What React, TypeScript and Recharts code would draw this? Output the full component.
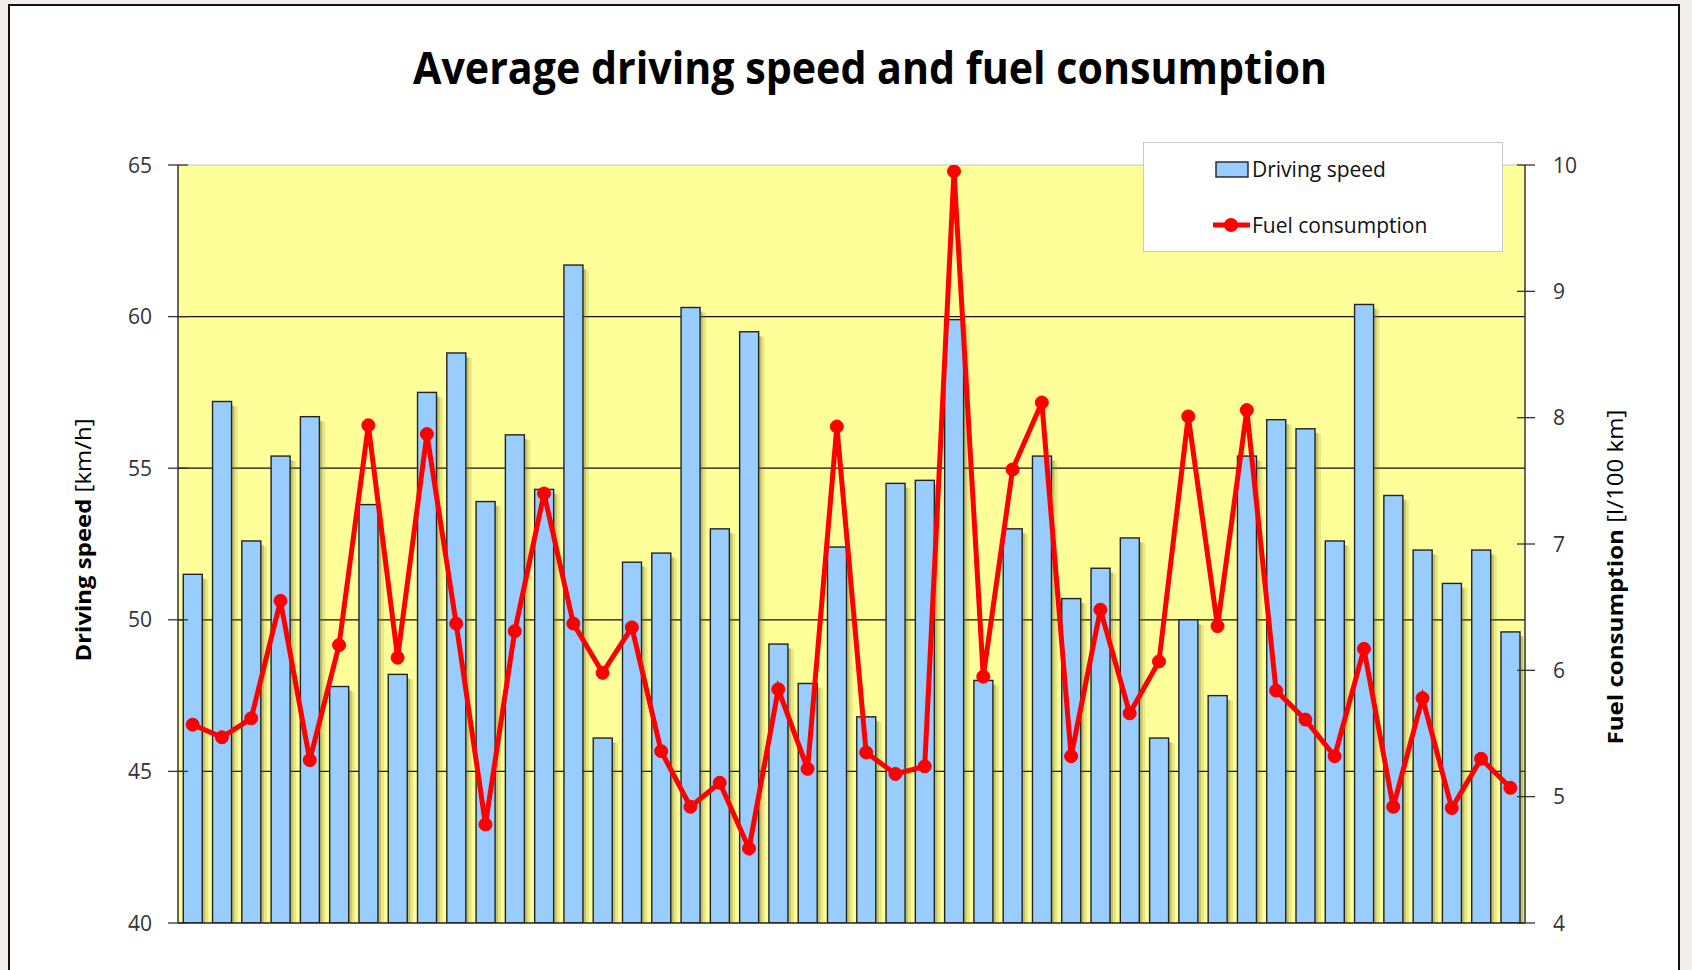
import React from 'react';
import { ComposedChart, Bar, Line, XAxis, YAxis, CartesianGrid, ReferenceLine, Legend } from 'recharts';

const categories = Array.from({ length: 46 }, (_, i) => String(i + 1));
const speedValues = [
  51.5, 57.2, 52.6, 55.4, 56.7, 47.8, 53.8, 48.2, 57.5, 58.8,
  53.9, 56.1, 54.3, 61.7, 46.1, 51.9, 52.2, 60.3, 53.0, 59.5,
  49.2, 47.9, 52.4, 46.8, 54.5, 54.6, 59.9, 48.0, 53.0, 55.4,
  50.7, 51.7, 52.7, 46.1, 50.0, 47.5, 55.4, 56.6, 56.3, 52.6,
  60.4, 54.1, 52.3, 51.2, 52.3, 49.6,
];
const fuelValues = [
  5.57, 5.47, 5.62, 6.55, 5.29, 6.2, 7.94, 6.1, 7.87, 6.37,
  4.78, 6.31, 7.4, 6.37, 5.98, 6.34, 5.36, 4.92, 5.11, 4.59,
  5.85, 5.22, 7.93, 5.35, 5.18, 5.24, 9.95, 5.95, 7.59, 8.12,
  5.32, 6.48, 5.66, 6.07, 8.01, 6.35, 8.06, 5.84, 5.61, 5.32,
  6.17, 4.92, 5.78, 4.91, 5.3, 5.07,
];
const speedTicks = [40, 45, 50, 55, 60, 65];
const speedGrid = [45, 50, 55, 60];
const fuelTicks = [4, 5, 6, 7, 8, 9, 10];

const titleText = 'Average driving speed and fuel consumption';
const speedName = 'Driving speed';
const fuelName = 'Fuel consumption';
const speedUnit = ' [km/h]';
const fuelUnit = ' [l/100 km]';

const data = categories.map((c, i) => ({ name: c, speed: speedValues[i], fuel: fuelValues[i] }));

const FONT = '"Open Sans", "Liberation Sans", sans-serif';
const TICK_SIZE = 10;
const L_MARGIN = 16;
const R_MARGIN = 18;

const LeftTick = (props: any) => {
  const { x, y, payload } = props;
  const ax = x + TICK_SIZE + L_MARGIN;
  return (
    <g>
      <line x1={ax - 10} x2={ax + 10} y1={y} y2={y} stroke="#333" strokeWidth={1.3} />
      <text x={x} y={y} dy="0.36em" textAnchor="end" fontFamily={FONT} fontSize={21} fill="#333">
        {payload.value}
      </text>
    </g>
  );
};

const RightTick = (props: any) => {
  const { x, y, payload } = props;
  const ax = x - TICK_SIZE - R_MARGIN;
  return (
    <g>
      <line x1={ax - 8} x2={ax + 10} y1={y} y2={y} stroke="#333" strokeWidth={1.3} />
      <text x={x} y={y} dy="0.36em" textAnchor="start" fontFamily={FONT} fontSize={21} fill="#333">
        {payload.value}
      </text>
    </g>
  );
};

const ShadowBar = (props: any) => {
  const { x, y, width, height } = props;
  if (!height || height <= 0) return null;
  return (
    <g>
      <rect x={x + 3} y={y + 5} width={width + 3} height={Math.max(0, height - 5)} fill="rgba(120,120,40,0.18)" />
      <rect x={x + 3} y={y + 4} width={width} height={Math.max(0, height - 4)} fill="rgba(110,110,40,0.3)" />
      <rect x={x} y={y} width={width} height={height} fill="#99CCFF" stroke="#222" strokeWidth={1.4} />
    </g>
  );
};

const LeftLabel = (props: any) => {
  const { viewBox } = props;
  const cx = viewBox.x + 83;
  const cy = viewBox.y + viewBox.height / 2 - 4;
  return (
    <text
      x={cx}
      y={cy}
      transform={`rotate(-90 ${cx} ${cy})`}
      textAnchor="middle"
      dominantBaseline="central"
      fontFamily={FONT}
      fontSize={21}
      fill="#000"
      textLength={243}
      lengthAdjust="spacingAndGlyphs"
    >
      <tspan fontWeight={700}>{speedName}</tspan>
      <tspan fontWeight={400}>{speedUnit}</tspan>
    </text>
  );
};

const RightLabel = (props: any) => {
  const { viewBox } = props;
  const cx = viewBox.x + 90;
  const cy = viewBox.y + viewBox.height / 2 + 33;
  return (
    <text
      x={cx}
      y={cy}
      transform={`rotate(-90 ${cx} ${cy})`}
      textAnchor="middle"
      dominantBaseline="central"
      fontFamily={FONT}
      fontSize={21}
      fill="#000"
      textLength={335}
      lengthAdjust="spacingAndGlyphs"
    >
      <tspan fontWeight={700}>{fuelName}</tspan>
      <tspan fontWeight={400}>{fuelUnit}</tspan>
    </text>
  );
};

const LegendBox = (props: any) => {
  const payload = props.payload || [];
  const barItem = payload.find((p: any) => p.dataKey === 'speed');
  const lineItem = payload.find((p: any) => p.dataKey === 'fuel');
  return (
    <svg width={360} height={110} style={{ display: 'block' }}>
      <rect x={0.5} y={0.5} width={359} height={109} fill="#fff" stroke="#c8c8c8" strokeWidth={1} />
      <rect x={73} y={20} width={32} height={15} fill="#99CCFF" stroke="#222" strokeWidth={1.4} />
      <text x={109} y={35} fontFamily={FONT} fontSize={21} fill="#111">
        {barItem ? barItem.value : speedName}
      </text>
      <line x1={70} x2={107} y1={83} y2={83} stroke="#ff0000" strokeWidth={5} />
      <circle cx={88} cy={83} r={7} fill="#ff0000" />
      <text x={109} y={91} fontFamily={FONT} fontSize={21} fill="#111">
        {lineItem ? lineItem.value : fuelName}
      </text>
    </svg>
  );
};

export default function App() {
  return (
    <div
      style={{
        position: 'absolute',
        left: 0,
        top: 0,
        width: 1692,
        height: 970,
        overflow: 'hidden',
        background: '#f3eded',
      }}
    >
      <div
        style={{
          position: 'absolute',
          left: 8,
          top: 4,
          width: 1668,
          height: 1000,
          background: '#fff',
          border: '2px solid #111',
        }}
      />
      <svg style={{ position: 'absolute', left: 0, top: 0 }} width={1692} height={120}>
        <text
          x={870}
          y={84}
          textAnchor="middle"
          fontFamily={FONT}
          fontWeight={700}
          fontSize={44}
          fill="#000"
          textLength={914}
          lengthAdjust="spacingAndGlyphs"
        >
          {titleText}
        </text>
      </svg>
      <div style={{ position: 'absolute', left: 0, top: 0 }}>
        <ComposedChart
          width={1692}
          height={970}
          data={data}
          margin={{ top: 165, right: 0, bottom: 17, left: 0 }}
          barCategoryGap="18%"
        >
          <CartesianGrid
            yAxisId="left"
            vertical={false}
            horizontalValues={speedGrid}
            stroke="#111"
            strokeWidth={1.2}
            fill="#FFFF99"
            fillOpacity={1}
          />
          <XAxis dataKey="name" height={30} tick={false} tickLine={false} axisLine={{ stroke: '#222', strokeWidth: 1.5 }} />
          <YAxis
            yAxisId="left"
            orientation="left"
            width={178}
            domain={[40, 65]}
            ticks={speedTicks}
            interval={0}
            tickSize={TICK_SIZE}
            tickMargin={L_MARGIN}
            tickLine={false}
            tick={<LeftTick />}
            axisLine={{ stroke: '#333', strokeWidth: 1.5 }}
            allowDataOverflow
            label={<LeftLabel />}
          />
          <YAxis
            yAxisId="right"
            orientation="right"
            width={167}
            domain={[4, 10]}
            ticks={fuelTicks}
            interval={0}
            tickSize={TICK_SIZE}
            tickMargin={R_MARGIN}
            tickLine={false}
            tick={<RightTick />}
            axisLine={{ stroke: '#333', strokeWidth: 1.5 }}
            allowDataOverflow
            label={<RightLabel />}
          />
          <ReferenceLine yAxisId="left" y={65} stroke="#c4c4c4" strokeWidth={1.2} />
          <Bar
            yAxisId="left"
            dataKey="speed"
            name={speedName}
            fill="#99CCFF"
            shape={<ShadowBar />}
            isAnimationActive={false}
          />
          <Line
            yAxisId="right"
            dataKey="fuel"
            name={fuelName}
            type="linear"
            stroke="#ff0000"
            strokeWidth={5}
            dot={{ r: 6.5, fill: '#ff0000', stroke: '#ff0000', strokeWidth: 1 }}
            activeDot={false}
            isAnimationActive={false}
          />
          <Legend
            layout="horizontal"
            verticalAlign="middle"
            align="center"
            content={<LegendBox />}
            wrapperStyle={{ position: 'absolute', left: 1143, top: 142, width: 360, height: 110 }}
          />
        </ComposedChart>
      </div>
    </div>
  );
}
